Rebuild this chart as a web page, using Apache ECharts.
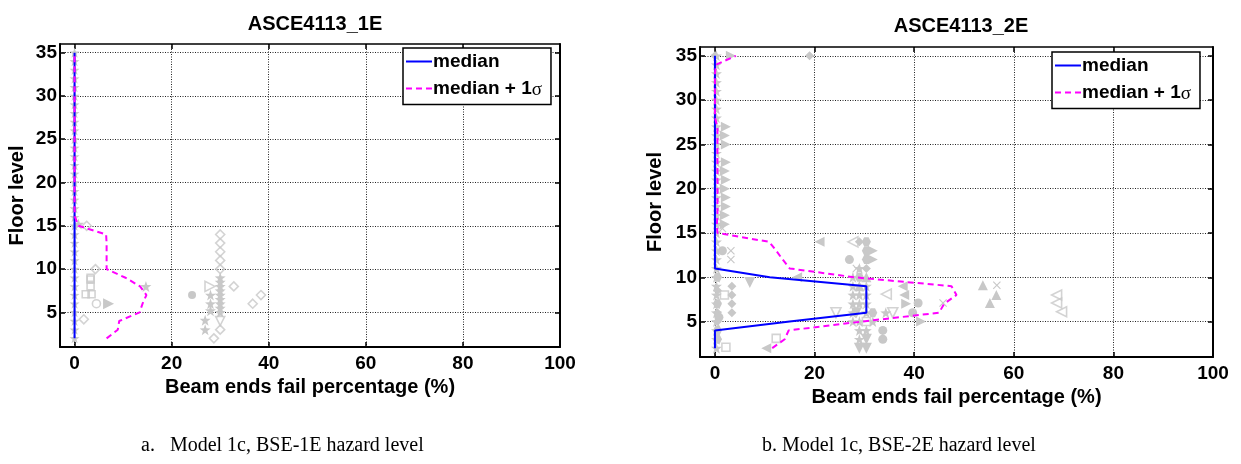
<!DOCTYPE html>
<html>
<head>
<meta charset="utf-8">
<script src="https://cdn.jsdelivr.net/npm/echarts@6/dist/echarts.min.js"></script>
<style>html,body{margin:0;padding:0;background:#fff}#c{width:1241px;height:464px}</style>
</head>
<body>
<div id="c"></div>
<script>
// ---------- data ----------
var floors = [2,3,4,5,6,7,8,9,10,11,12,13,14,15,16,17,18,19,20,21,22,23,24,25,26,27,28,29,30,31,32,33,34,35];
var xTicks = [0,20,40,60,80,100];
var yTicks = [5,10,15,20,25,30,35];

// Left chart (ASCE4113_1E)
var L_median = [0,0,0,0,0,0,0,0,0,0,0,0,0,0,0,0,0,0,0,0,0,0,0,0,0,0,0,0,0,0,0,0,0,0];
var L_sigma  = [6.6,8.9,9.2,13.4,14.0,14.8,13.5,10.5,6.6,6.6,6.6,6.6,6.5,0.8,0.1,0,0,0,0,0,0,0,0,0,0,0,0,0,0,0,0,0,0,0];
var L_zero = [[0,2],[0,3],[0,4],[0,5],[0,6],[0,7],[0,8],[0,9],[0,10],[0,11],[0,12],[0,13],[0,14],[0,15],[0,16],[0,17],[0,18],[0,19],[0,20],[0,21],[0,22],[0,23],[0,24],[0,25],[0,26],[0,27],[0,28],[0,29],[0,30],[0,31],[0,32],[0,33],[0,34],[0,35]];
var L_star = [[14.7,8],[28,7],[28,6],[28,5.2],[26.9,4.1],[26.9,3],[30,9],[30,8.5],[30,8],[30,7.5],[30,7],[30,6.5],[30,6],[30,5.5],[30,5],[0.8,15.2]];
var L_diamondOpen = [[2.5,15],[4.3,10],[1.9,4.2],[30,14],[30,13],[30,12],[30,11],[30,10],[32.8,8],[30,3],[28.7,2],[36.7,6],[38.4,7]];
var L_circleFill = [[24.2,7]];
var L_circleOpen = [[4.5,6]];
var L_triRightFill = [[7,6]];
var L_triRightOpen = [[27.9,8]];
var L_squareOpen = [[3.3,9],[3.3,8.8],[3.3,8],[2.3,7.1],[3.5,7.1]];
var L_triDownOpen = [[30,4]];

// Right chart (ASCE4113_2E)
var R_median = [0,0,0,15,30.4,30.4,30.4,30.4,11,0,0,0,0,0,0,0,0,0,0,0,0,0,0,0,0,0,0,0,0,0,0,0,0,0];
var R_sigma  = [11.5,14,14.8,29.5,45,46,48.5,47.5,28,15,13.6,12.3,10.9,0.5,0.4,0.5,0.5,0.5,0.5,0.5,0.5,0.5,0.5,0.5,0.5,0.5,0,0,0,0,0,0,0.2,4.2];
var R_zero = [[0.3,2],[0.3,3],[0.3,4],[0.3,5],[0.3,6],[0.3,7],[0.3,8],[0.3,9],[0.3,10],[0.3,11],[0.3,12],[0.3,13],[0.3,14],[0.3,15],[0.3,16],[0.3,17],[0.3,18],[0.3,19],[0.3,20],[0.3,21],[0.3,22],[0.3,23],[0.3,24],[0.3,25],[0.3,26],[0.3,27],[0.3,28],[0.3,29],[0.3,30],[0.3,31],[0.3,32],[0.3,33],[0.3,34],[0.3,35]];
var R_triRightFill = [[2.2,27],[2,26],[2.2,25],[2.2,23],[2,22],[2.2,21],[2,20],[2.2,19],[2.2,18],[2,17],[2,16],[31.7,13],[31.7,12],[38.4,7],[41.4,5],[3.2,35]];
var R_diamondFill = [[19,35],[0,35],[3.4,9],[3.4,8],[3.4,7],[3.4,6],[0.5,8.5],[29,14],[30.4,11],[0.5,5],[0.5,6]];
var R_triUpFill = [[53.8,9.1],[56.5,8],[55.2,7.1],[30.4,10],[29,9]];
var R_xMark = [[56.6,9.1],[45.8,7.1],[3.2,13],[3.2,12],[28.4,11],[1.5,15.5]];
var R_triLeftOpen = [[68.6,8],[68.6,7.1],[69.6,6.1],[34.4,8.1],[27.7,14]];
var R_triLeftFill = [[21,14],[10.3,2],[37.7,9],[38,8],[16.5,10]];
var R_circleFill = [[1.5,13],[27,12],[33.7,4],[33.7,3],[40.8,7.1],[39.7,6],[0.8,5.5]];
var R_squareOpen = [[12.3,3.1],[2.2,2.1],[1.9,8],[30.4,5]];
var R_triDownFill = [[7,9.4],[28.4,6],[29,2],[30.4,2],[30.4,3]];
var R_triDownOpen = [[24.3,6],[35.7,6]];
var R_star = [[27.7,9],[29,9],[27.7,8],[29,8],[30.4,8],[27.7,7],[29,7],[30.4,7],[30.4,9],[27.7,5],[29,5],[30.4,6],[34.3,6],[29,4],[30.4,4],[29,3],[31.7,5],[27.7,6],[27.7,10],[29,11]];
var R_hex = [[30.4,13],[30.4,12],[29,10],[30.4,14],[31.7,6],[0.5,10],[0.5,7],[0.5,4],[0.5,3]];

// ---------- styling / build ----------
var GRAY = '#c8c8c8';
var STAR = 'path://M0,-10 L2.35,-3.24 L9.51,-3.09 L3.8,1.24 L5.88,8.09 L0,4 L-5.88,8.09 L-3.8,1.24 L-9.51,-3.09 L-2.35,-3.24 Z';
var XMARK = 'path://M-5,-4 L-4,-5 L0,-1 L4,-5 L5,-4 L1,0 L5,4 L4,5 L0,1 L-4,5 L-5,4 L-1,0 Z';
var HEX = 'path://M-5,0 L-2.5,-4.33 L2.5,-4.33 L5,0 L2.5,4.33 L-2.5,4.33 Z';
var FONT = '"Liberation Sans", Arial, sans-serif';

function pairs(xs){ return floors.map(function(f,i){ return [xs[i], f]; }); }

function scatter(data, gi, symbol, size, rotate, open){
  return {
    type:'scatter', xAxisIndex: gi*2, yAxisIndex: gi*2, data: data,
    symbol: symbol, symbolSize: size, symbolRotate: rotate || 0, z: 1, silent: true,
    itemStyle: open ? {color:'rgba(255,255,255,0)', borderColor: GRAY, borderWidth: 1.6}
                    : {color: GRAY, opacity: 1}
  };
}

var grids = [
  {left:60, top:44, width:500, height:303},
  {left:700, top:47, width:513, height:310}
];

var xAxes = [], yAxes = [];
grids.forEach(function(g, gi){
  xAxes.push({
    type:'value', gridIndex: gi, min:-3, max:100, position:'bottom',
    name:'Beam ends fail percentage (%)', nameLocation:'middle', nameGap: gi ? 26 : 25,
    nameTextStyle:{fontFamily:FONT, fontWeight:'bold', fontSize:20, color:'#000'},
    axisLine:{show:true, onZero:false, lineStyle:{color:'#000', width:2}},
    axisTick:{show:true, inside:true, length:5, customValues: xTicks, lineStyle:{color:'#000', width:1.5}},
    axisLabel:{customValues: xTicks, margin:7, fontFamily:FONT, fontWeight:'bold', fontSize:19, color:'#000'},
    splitLine:{show:true, lineStyle:{color:'#222', type:[1,1.5], width:1}}
  });
  xAxes.push({
    type:'value', gridIndex: gi, min:-3, max:100, position:'top',
    axisLine:{show:true, onZero:false, lineStyle:{color:'#000', width:1.5}},
    axisTick:{show:true, inside:true, length:5, customValues: xTicks, lineStyle:{color:'#000', width:1.5}},
    axisLabel:{show:false}, splitLine:{show:false}
  });
  yAxes.push({
    type:'value', gridIndex: gi, min:1, max:36, splitNumber:7, position:'left',
    name:'Floor level', nameLocation:'middle', nameGap: gi ? 35 : 33, nameRotate: 90,
    nameTextStyle:{fontFamily:FONT, fontWeight:'bold', fontSize:20, color:'#000'},
    axisLine:{show:true, onZero:false, lineStyle:{color:'#000', width:2}},
    axisTick:{show:true, inside:true, length:5, customValues: yTicks, lineStyle:{color:'#000', width:1.5}},
    axisLabel:{customValues: yTicks, margin:3, fontFamily:FONT, fontWeight:'bold', fontSize:19, color:'#000'},
    splitLine:{show:true, lineStyle:{color:'#222', type:[1,1.5], width:1}}
  });
  yAxes.push({
    type:'value', gridIndex: gi, min:1, max:36, splitNumber:7, position:'right',
    axisLine:{show:true, onZero:false, lineStyle:{color:'#000', width:2}},
    axisTick:{show:true, inside:true, length:5, customValues: yTicks, lineStyle:{color:'#000', width:1.5}},
    axisLabel:{show:false}, splitLine:{show:false}
  });
});

function lineSeries(name, data, gi, color, dashed){
  return {
    type:'line', name:name, xAxisIndex: gi*2, yAxisIndex: gi*2, data: data,
    symbol:'none', z: dashed ? 4 : 3, silent:true,
    lineStyle:{color: color, width: 2, type: dashed ? [6,4] : 'solid'},
    itemStyle:{color: color}
  };
}

var series = [
  // left scatter
  scatter(L_zero, 0, STAR, 10),
  scatter(L_star, 0, STAR, 11),
  scatter(L_diamondOpen, 0, 'diamond', 9, 0, true),
  scatter(L_circleFill, 0, 'circle', 8),
  scatter(L_circleOpen, 0, 'circle', 8, 0, true),
  scatter(L_triRightFill, 0, 'triangle', 11, -90),
  scatter(L_triRightOpen, 0, 'triangle', 10, -90, true),
  scatter(L_squareOpen, 0, 'rect', 7, 0, true),
  scatter(L_triDownOpen, 0, 'triangle', 9, 180, true),
  // right scatter
  scatter(R_zero, 1, STAR, 11),
  scatter(R_triRightFill, 1, 'triangle', 10, -90),
  scatter(R_diamondFill, 1, 'diamond', 9),
  scatter(R_triUpFill, 1, 'triangle', 10),
  scatter(R_xMark, 1, XMARK, 8),
  scatter(R_triLeftOpen, 1, 'triangle', 10, 90, true),
  scatter(R_triLeftFill, 1, 'triangle', 10, 90),
  scatter(R_circleFill, 1, 'circle', 9),
  scatter(R_squareOpen, 1, 'rect', 8, 0, true),
  scatter(R_triDownFill, 1, 'triangle', 11, 180),
  scatter(R_triDownOpen, 1, 'triangle', 10, 180, true),
  scatter(R_star, 1, STAR, 11),
  scatter(R_hex, 1, HEX, 9),
  // lines
  lineSeries('median', pairs(L_median), 0, '#0000ff', false),
  lineSeries('median + 1σ', pairs(L_sigma), 0, '#ff00ff', true),
  lineSeries('median', pairs(R_median), 1, '#0000ff', false),
  lineSeries('median + 1σ', pairs(R_sigma), 1, '#ff00ff', true)
];

function legend(left, top){
  return {
    data:['median','median + 1σ'], orient:'vertical', left:left, top:top,
    itemWidth:26, itemHeight:14, itemGap:8, padding:[4,9,5,2],
    backgroundColor:'#fff', borderColor:'#000', borderWidth:1.5, borderRadius:0,
    selectedMode:false,
    itemStyle:{opacity:0},
    formatter: function(n){ return n === 'median' ? '{t|median}' : '{t|median + 1}{s|σ}'; },
    textStyle:{ padding:[0,0,0,-4], rich:{
      t:{fontFamily:FONT, fontWeight:'bold', fontSize:19, color:'#000'},
      s:{fontFamily:'"Liberation Serif", serif', fontSize:19, color:'#000', padding:[3,0,0,0]}
    }}
  };
}

var chart = echarts.init(document.getElementById('c'), null, {renderer:'canvas'});
chart.setOption({
  animation:false,
  backgroundColor:'#fff',
  title:[
    {text:'ASCE4113_1E', left:310, top:9, textAlign:'center',
     textStyle:{fontFamily:FONT, fontWeight:'bold', fontSize:20, color:'#000'}},
    {text:'ASCE4113_2E', left:956, top:11, textAlign:'center',
     textStyle:{fontFamily:FONT, fontWeight:'bold', fontSize:20, color:'#000'}}
  ],
  legend:[legend(403, 48), legend(1052, 52)],
  grid: grids,
  xAxis: xAxes,
  yAxis: yAxes,
  series: series,
  graphic:[
    {type:'text', left:141, top:436, silent:true,
     style:{text:'a.   Model 1c, BSE-1E hazard level', font:'20px "Liberation Serif", serif', fill:'#000'}},
    {type:'text', left:762, top:436, silent:true,
     style:{text:'b. Model 1c, BSE-2E hazard level', font:'20px "Liberation Serif", serif', fill:'#000'}}
  ]
});
</script>
</body>
</html>
